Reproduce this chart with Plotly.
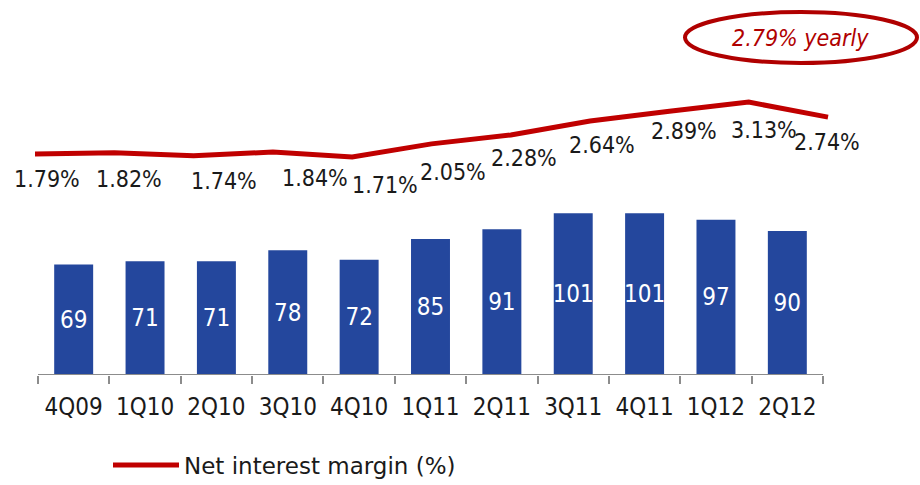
import plotly.graph_objects as go

quarters = ["4Q09", "1Q10", "2Q10", "3Q10", "4Q10", "1Q11", "2Q11", "3Q11", "4Q11", "1Q12", "2Q12"]
bar_values = [69, 71, 71, 78, 72, 85, 91, 101, 101, 97, 90]
nim_values = [1.79, 1.82, 1.74, 1.84, 1.71, 2.05, 2.28, 2.64, 2.89, 3.13, 2.74]
nim_labels = ["1.79%", "1.82%", "1.74%", "1.84%", "1.71%", "2.05%", "2.28%", "2.64%", "2.89%", "3.13%", "2.74%"]
legend_name = "Net interest margin (%)"
callout_text = "2.79% yearly"

# label offsets (style only)
label_dx = [12, 15, 30, 42, 33, 21, 13, 12, 15, 15, -1]
label_dy = [-25, -26, -25, -26, -28, -28, -23, -24, -20, -28, -25]

FONT = "DejaVu Sans Condensed"
BLUE = "#24479D"
RED = "#C00000"

L, R, T, B = 30, 85, 10, 110
W, H = 920, 485
pw, ph = W - L - R, H - T - B

fig = go.Figure()
fig.add_trace(go.Bar(
    x=quarters, y=bar_values, marker=dict(color=BLUE, line=dict(width=0)),
    text=[str(v) for v in bar_values], textposition="inside", insidetextanchor="middle",
    constraintext="none", textangle=0,
    textfont=dict(color="white", size=24, family=FONT),
    showlegend=False, hoverinfo="skip"))
fig.add_trace(go.Scatter(
    x=quarters, y=nim_values, xaxis="x2", yaxis="y2", mode="lines",
    line=dict(color=RED, width=5), name=legend_name, showlegend=True))

for q, v, t, dx, dy in zip(quarters, nim_values, nim_labels, label_dx, label_dy):
    fig.add_annotation(x=q, y=v, xref="x2", yref="y2", text=t, showarrow=False,
                       xanchor="center", yanchor="middle",
                       xshift=dx, yshift=dy, font=dict(size=23, family=FONT, color="#1a1a1a"))

# axis line
fig.add_shape(type="line", xref="x", yref="y", x0=-0.5, x1=10.5, y0=0, y1=0,
              line=dict(color="#8c8c8c", width=2))

# callout ellipse
def px2x(p): return (p - L) / pw
def px2y(p): return (T + ph - p) / ph
fig.add_shape(type="circle", xref="paper", yref="paper",
              x0=px2x(685), x1=px2x(917), y0=px2y(63), y1=px2y(12),
              line=dict(color="#B00000", width=4))
fig.add_annotation(xref="paper", yref="paper", x=px2x(800), y=px2y(38), text="<i>" + callout_text + "</i>",
                   xanchor="center", yanchor="middle",
                   showarrow=False, font=dict(size=23, family=FONT, color="#B00000"))

fig.update_layout(
    width=W, height=H, margin=dict(l=L, r=R, t=T, b=B, autoexpand=False),
    paper_bgcolor="white", plot_bgcolor="white",
    bargap=0.454,
    xaxis=dict(type="category", range=[-0.612, 10.668], showline=False, showgrid=False, zeroline=False,
               ticks="outside", tickson="boundaries", ticklen=8, tickwidth=2, tickcolor="#8c8c8c",
               tickfont=dict(size=24, family=FONT, color="#1a1a1a"), ticklabelstandoff=15,
               automargin=False),
    xaxis2=dict(type="category", overlaying="x", range=[-0.063, 10.088], visible=False),
    yaxis=dict(range=[0, 228], visible=False, showgrid=False, zeroline=False),
    yaxis2=dict(range=[-3.923, 5.509], overlaying="y", visible=False, showgrid=False, zeroline=False),
    showlegend=True,
    legend=dict(x=px2x(108), y=px2y(465), xanchor="left", yanchor="middle", orientation="h",
                font=dict(size=23, family="DejaVu Sans", color="#1a1a1a"), itemwidth=66,
                bgcolor="rgba(0,0,0,0)"),
)
fig.write_html("out.html", config={"displayModeBar": False},
               post_script="document.body.style.margin='0';")
